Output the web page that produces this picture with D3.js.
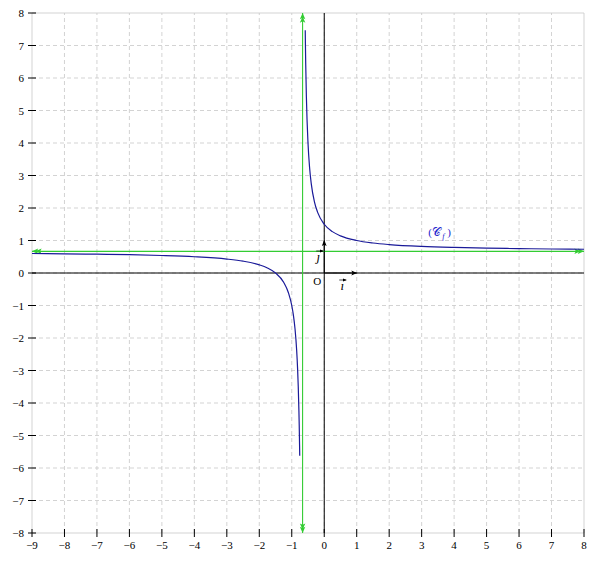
<!DOCTYPE html>
<html><head><meta charset="utf-8">
<script src="https://cdn.jsdelivr.net/npm/d3@7"></script>
<style>body{margin:0;background:#fff}svg{display:block}svg text{font-family:'Liberation Serif','Times New Roman','DejaVu Serif',serif}</style>
</head><body><svg id="c" width="602" height="561"></svg>
<script>
const xTicks = [-9,-8,-7,-6,-5,-4,-3,-2,-1,0,1,2,3,4,5,6,7,8];
const yTicks = [-8,-7,-6,-5,-4,-3,-2,-1,0,1,2,3,4,5,6,7,8];
const leftX = [-9,-8,-7,-6,-5,-4,-3,-2.5,-2,-1.75,-1.5,-1.25,-1.1,-1,-0.95,-0.9,-0.85,-0.82,-0.8,-0.78,-0.77,-0.76,-0.755];
const leftY = [0.6,0.591,0.579,0.5625,0.538,0.5,0.429,0.364,0.25,0.154,0,-0.286,-0.615,-1,-1.294,-1.714,-2.364,-2.957,-3.5,-4.235,-4.71,-5.286,-5.62];
const rightX = [-0.585,-0.58,-0.57,-0.55,-0.5,-0.45,-0.4,-0.3,-0.2,0,0.25,0.5,1,1.5,2,3,4,5,6,7,8];
const rightY = [7.47,7.077,6.414,5.43,4,3.23,2.75,2.18,1.857,1.5,1.273,1.143,1,0.923,0.875,0.818,0.786,0.765,0.75,0.739,0.731];
const vAsym = -2/3, hAsym = 2/3;

const svg = d3.select("#c");
const x = d3.scaleLinear().domain([-9,8]).range([32,584]);
const y = d3.scaleLinear().domain([-8,8]).range([533,13]);
const fmt = v => v < 0 ? "\u2212" + Math.abs(v) : String(v);

// grid
const g = svg.append("g");
xTicks.forEach(t => {
  const edge = (t === -9 || t === 8);
  g.append("line").attr("x1", x(t)).attr("x2", x(t)).attr("y1", y(-8)).attr("y2", y(8))
   .attr("stroke", "#c8c8c8").attr("stroke-width", 0.8).attr("stroke-dasharray", edge ? null : "4,3");
});
yTicks.forEach(t => {
  const edge = (t === -8 || t === 8);
  g.append("line").attr("x1", x(-9)).attr("x2", x(8)).attr("y1", y(t)).attr("y2", y(t))
   .attr("stroke", "#c8c8c8").attr("stroke-width", 0.8).attr("stroke-dasharray", edge ? null : "4,3");
});

// ticks + labels
xTicks.forEach(t => {
  svg.append("line").attr("x1", x(t)).attr("x2", x(t)).attr("y1", y(-8)-4).attr("y2", y(-8)+4).attr("stroke","#000").attr("stroke-width",1);
  svg.append("text").attr("x", x(t)).attr("y", y(-8)+16).attr("text-anchor","middle").attr("font-size",11).text(fmt(t));
});
yTicks.forEach(t => {
  svg.append("line").attr("x1", x(-9)-4).attr("x2", x(-9)+4).attr("y1", y(t)).attr("y2", y(t)).attr("stroke","#000").attr("stroke-width",1);
  svg.append("text").attr("x", x(-9)-8).attr("y", y(t)+4).attr("text-anchor","end").attr("font-size",11).text(fmt(t));
});

// axes
svg.append("line").attr("x1", x(-9)).attr("x2", x(8)).attr("y1", y(0)).attr("y2", y(0)).attr("stroke","#000").attr("stroke-width",1);
svg.append("line").attr("x1", x(0)).attr("x2", x(0)).attr("y1", y(-8)).attr("y2", y(8)).attr("stroke","#000").attr("stroke-width",1);

// markers
const defs = svg.append("defs");
defs.append("marker").attr("id","ga").attr("viewBox","-6 0 16 10").attr("refX",9).attr("refY",5)
  .attr("markerWidth",11).attr("markerHeight",7).attr("orient","auto-start-reverse").attr("markerUnits","userSpaceOnUse")
  .append("path").attr("d","M0,1 L9,5 L0,9 L2,5 Z M-5,1 L4,5 L-5,9 L-3,5 Z").attr("fill","#33cc33");
defs.append("marker").attr("id","ba").attr("viewBox","0 0 10 10").attr("refX",9).attr("refY",5)
  .attr("markerWidth",6).attr("markerHeight",6).attr("orient","auto").attr("markerUnits","userSpaceOnUse")
  .append("path").attr("d","M0,1 L10,5 L0,9 L2,5 Z").attr("fill","#000");
defs.append("marker").attr("id","sa").attr("viewBox","0 0 10 10").attr("refX",9).attr("refY",5)
  .attr("markerWidth",4).attr("markerHeight",4).attr("orient","auto").attr("markerUnits","userSpaceOnUse")
  .append("path").attr("d","M0,1 L10,5 L0,9 Z").attr("fill","#000");

// asymptotes
svg.append("line").attr("x1", x(vAsym)).attr("x2", x(vAsym)).attr("y1", y(-8)).attr("y2", y(8))
  .attr("stroke","#33cc33").attr("stroke-width",1.1).attr("marker-start","url(#ga)").attr("marker-end","url(#ga)");
svg.append("line").attr("x1", x(-9)).attr("x2", x(8)).attr("y1", y(hAsym)).attr("y2", y(hAsym))
  .attr("stroke","#33cc33").attr("stroke-width",1.1).attr("marker-start","url(#ga)").attr("marker-end","url(#ga)");

// curve
const line = d3.line().x(d => x(d[0])).y(d => y(d[1])).curve(d3.curveMonotoneX);
svg.append("path").datum(leftX.map((v,i)=>[v,leftY[i]])).attr("d", line).attr("fill","none").attr("stroke","#1a1a99").attr("stroke-width",1.2);
svg.append("path").datum(rightX.map((v,i)=>[v,rightY[i]])).attr("d", line).attr("fill","none").attr("stroke","#1a1a99").attr("stroke-width",1.2);

// vectors
svg.append("line").attr("x1", x(0)).attr("x2", x(1)).attr("y1", y(0)).attr("y2", y(0)).attr("stroke","#000").attr("stroke-width",1).attr("marker-end","url(#ba)");
svg.append("line").attr("x1", x(0)).attr("x2", x(0)).attr("y1", y(0)).attr("y2", y(1)).attr("stroke","#000").attr("stroke-width",1).attr("marker-end","url(#ba)");

svg.append("text").attr("x", x(0)-7).attr("y", y(0)+12).attr("text-anchor","middle").attr("font-size",11).text("O");
// i vector label
const ix = x(0)+18, iy = y(0)+17;
svg.append("text").attr("x", ix).attr("y", iy).attr("text-anchor","middle").attr("font-size",13).attr("font-style","italic").text("\u0131");
svg.append("line").attr("x1", ix-3).attr("x2", ix+4).attr("y1", iy-10).attr("y2", iy-10).attr("stroke","#000").attr("stroke-width",0.7).attr("marker-end","url(#sa)");
// j vector label
const jx = x(0)-6, jy = y(0)-12;
svg.append("text").attr("x", jx).attr("y", jy).attr("text-anchor","middle").attr("font-size",13).attr("font-style","italic").text("\u0237");
svg.append("line").attr("x1", jx-2).attr("x2", jx+5).attr("y1", jy-10).attr("y2", jy-10).attr("stroke","#000").attr("stroke-width",0.7).attr("marker-end","url(#sa)");

// curve label
const lx = x(3.2), ly = y(1.15);
svg.append("text").attr("x", lx).attr("y", ly).attr("font-size",11).attr("fill","#2222cc").text("(");
svg.append("text").attr("x", lx+4).attr("y", ly).attr("font-size",12).attr("fill","#2222cc").text("\ud835\udc9e");
svg.append("text").attr("x", lx+14).attr("y", ly+3).attr("font-size",8).attr("font-style","italic").attr("fill","#2222cc").text("f");
svg.append("text").attr("x", lx+19).attr("y", ly).attr("font-size",11).attr("fill","#2222cc").text(")");
</script></body></html>
